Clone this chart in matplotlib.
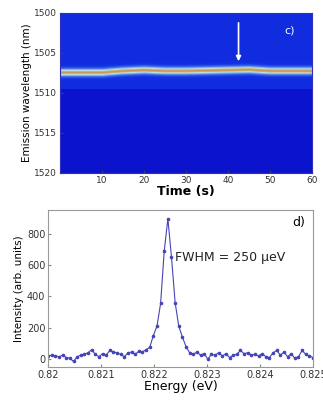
import numpy as np
import matplotlib.pyplot as plt
from matplotlib.colors import LinearSegmentedColormap

# panel c) emission line position vs time
band_time = [0, 5, 10, 15, 20, 25, 30, 35, 40, 45, 50, 55, 60]
band_center = [1507.45, 1507.45, 1507.45, 1507.25, 1507.15, 1507.25, 1507.25,
               1507.2, 1507.15, 1507.1, 1507.25, 1507.25, 1507.25]
band_width = 0.17
arrow_time = 42.5

# panel d) spectrum
energy_start = 0.82
energy_step = 0.0000685
intensity = [20, 25, 20, 15, 25, 10, 5, -15, 15, 25, 30, 40, 60, 30, 15, 35,
             25, 55, 45, 40, 30, 15, 40, 45, 30, 50, 45, 60, 75, 150, 210, 355,
             690, 895, 650, 360, 210, 140, 80, 40, 30, 45, 25, 35, 0, 30, 25,
             40, 20, 35, 10, 25, 30, 55, 35, 40, 25, 30, 20, 35, 15, 10, 40,
             55, 25, 45, 15, 35, 5, 15, 55, 30, 20, 10]
energy = energy_start + energy_step * np.arange(len(intensity))

fig = plt.figure(figsize=(3.23, 4.01), dpi=100)

# ---- top panel
ax1 = fig.add_axes([0.186, 0.569, 0.780, 0.399])
t = np.linspace(0, 60, 241)
wl = np.linspace(1500, 1520, 801)
T, W = np.meshgrid(t, wl)
c = np.interp(T, band_time, band_center)
img = np.where(W < 1509.5, 0.13, 0.04)
img = img + 0.4 * np.exp(-0.5 * ((W - c) / (band_width * 2.0)) ** 2)
img = img + 0.45 * np.exp(-0.5 * ((W - c) / band_width) ** 2)
cmap = LinearSegmentedColormap.from_list(
    "em", [(0, "#0808c4"), (0.15, "#1232e2"), (0.4, "#7fb8ee"),
           (0.6, "#c8dce0"), (0.8, "#c8b878"), (1, "#c89858")])
ax1.pcolormesh(t, wl, img, cmap=cmap, vmin=0, vmax=1, shading="auto")
ax1.set_ylim(1520, 1500)
ax1.set_xlim(0, 60)
ax1.set_xticks([10, 20, 30, 40, 50, 60])
ax1.set_yticks([1500, 1505, 1510, 1515, 1520])
ax1.annotate("", xy=(arrow_time, 1506.4), xytext=(arrow_time, 1500.9),
             arrowprops=dict(arrowstyle="-|>", color="white", lw=1.2,
                             mutation_scale=7))
ax1.text(0.91, 0.92, "c)", transform=ax1.transAxes, color="white",
         fontsize=8, ha="center", va="top")
ax1.set_xlabel("Time (s)", fontsize=9, fontweight="bold", labelpad=0)
ax1.set_ylabel("Emission wavelength (nm)", fontsize=7.5, labelpad=2)
ax1.tick_params(labelsize=6.5, direction="in", length=2, colors="#444444",
                labelcolor="#333333", pad=2)
for s in ax1.spines.values():
    s.set_color("#3030c0")

# ---- bottom panel
ax2 = fig.add_axes([0.149, 0.085, 0.820, 0.391])
ax2.plot(energy, intensity, color="#4545b8", lw=0.8, marker="o", ms=1.6)
ax2.set_xlim(0.82, 0.825)
ax2.set_ylim(-50, 950)
ax2.set_xticks([0.82, 0.821, 0.822, 0.823, 0.824, 0.825])
ax2.set_xticklabels(["0.82", "0.821", "0.822", "0.823", "0.824", "0.825"])
ax2.set_yticks([0, 200, 400, 600, 800])
ax2.text(0.97, 0.96, "d)", transform=ax2.transAxes, fontsize=9,
         ha="right", va="top")
ax2.text(0.8224, 650, "FWHM = 250 \u03bceV", fontsize=9, va="center",
         color="#222222")
ax2.set_xlabel("Energy (eV)", fontsize=9, labelpad=0)
ax2.set_ylabel("Intensity (arb. units)", fontsize=7.5, labelpad=2)
ax2.tick_params(labelsize=7, direction="in", length=2, colors="#888888",
                labelcolor="#333333", pad=2)
for s in ax2.spines.values():
    s.set_color("#999999")

fig.savefig("out.png", dpi=100)
